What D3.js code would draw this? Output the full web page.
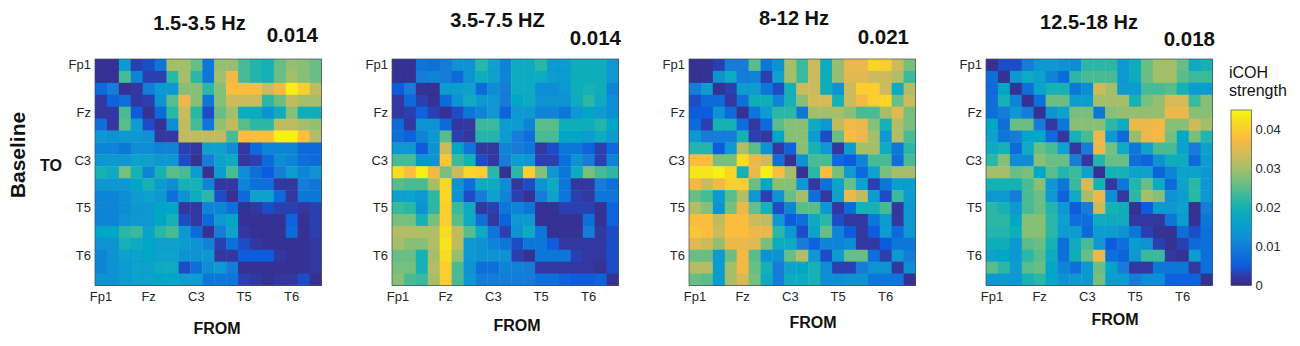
<!DOCTYPE html>
<html><head><meta charset="utf-8">
<style>
html,body{margin:0;padding:0;background:#fff;overflow:hidden}
text{font-family:"Liberation Sans",Arial,sans-serif}
</style>
<script src="https://cdn.jsdelivr.net/npm/d3@7"></script>
</head><body><svg id="c" width="1300" height="346"></svg>
<script>
const channels = ["Fp1","","","","Fz","","","","C3","","","","T5","","","","T6","",""];
const bandTitles = ["1.5-3.5 Hz","3.5-7.5 HZ","8-12 Hz","12.5-18 Hz"];
const bandMeans = ["0.014","0.014","0.021","0.018"];
const colorTicks = [0,0.01,0.02,0.03,0.04];
// iCOH strength x 1000, rows = TO, columns = FROM
const delta = [
[1,1,15,3,4,9,30,30,26,9,29,29,24,21,20,26,29,28,26],
[1,1,24,11,3,3,22,30,22,9,30,37,24,21,20,26,30,28,26],
[7,10,1,2,10,14,14,28,28,22,28,38,38,38,33,37,44,40,32],
[2,6,8,2,3,13,25,36,28,9,28,33,33,33,22,26,32,30,30],
[2,2,24,5,1,7,22,33,22,4,26,30,18,18,13,18,28,19,19],
[8,2,25,15,4,1,12,32,24,9,29,32,25,22,22,32,32,30,29],
[14,13,14,14,13,2,2,32,32,32,32,24,38,38,38,44,44,38,31],
[11,11,9,12,12,11,11,3,2,16,16,12,2,7,11,11,11,7,7],
[14,14,14,16,16,14,14,4,1,10,16,18,2,3,7,12,11,8,7],
[20,18,27,20,11,20,25,24,15,1,15,24,12,8,5,10,15,11,13],
[14,14,14,17,20,15,12,20,20,11,2,2,11,8,8,2,2,10,9],
[11,11,12,15,16,14,8,13,18,22,4,1,7,16,16,7,2,9,9],
[11,11,12,14,14,17,17,2,2,11,11,8,1,2,4,3,3,2,3],
[11,11,13,14,14,17,20,4,2,7,14,17,1,1,1,1,6,1,3],
[17,17,22,23,16,22,24,14,7,1,10,16,2,1,1,1,7,1,3],
[13,13,20,18,17,16,16,15,13,11,3,8,4,2,1,1,1,1,2],
[11,13,16,16,17,16,16,13,13,14,2,2,5,5,5,2,1,1,2],
[11,13,15,16,16,18,18,4,8,12,14,10,1,1,1,1,1,1,2],
[13,13,15,16,16,17,17,15,15,9,9,9,3,2,1,2,2,4,1]];
const theta = [
[1,1,9,8,10,13,13,22,16,11,18,18,22,15,15,19,19,19,14],
[1,1,10,11,10,7,13,19,16,11,18,18,18,15,15,19,19,19,14],
[5,10,1,1,15,15,16,7,12,10,18,18,12,12,14,19,20,19,11],
[2,7,3,1,7,13,18,14,14,10,17,18,13,13,13,18,22,18,12],
[2,3,6,3,1,4,9,11,14,6,14,14,11,11,9,14,17,15,12],
[7,2,13,13,7,2,2,23,23,15,15,11,25,25,19,19,19,21,17],
[8,6,11,14,25,3,2,21,21,15,10,8,24,24,17,17,15,18,15],
[14,14,5,13,33,17,9,2,2,11,10,9,2,4,9,9,6,3,7],
[24,24,13,13,39,23,20,4,2,10,15,14,3,3,8,13,10,3,11],
[42,38,44,37,27,33,41,40,22,1,22,40,28,14,9,18,27,24,22],
[25,24,24,30,41,13,8,18,18,12,2,4,13,18,9,2,2,10,8],
[16,16,14,22,41,13,4,10,16,11,3,1,10,16,9,3,2,9,9],
[23,22,13,22,40,23,18,2,3,9,11,9,1,1,3,3,3,1,6],
[27,27,20,27,40,25,18,8,2,6,14,14,1,1,1,1,8,1,6],
[31,31,31,31,42,32,25,18,9,3,13,18,9,1,1,1,10,2,4],
[30,28,28,31,43,32,14,13,11,9,4,9,9,5,2,2,2,2,4],
[26,26,20,30,42,29,14,13,13,13,3,1,9,9,9,3,2,2,4],
[27,27,20,31,40,24,13,8,8,11,11,10,2,2,2,2,2,1,4],
[28,24,23,30,40,24,14,10,10,10,10,10,8,8,6,5,5,6,1]];
const alpha = [
[1,1,3,10,10,25,9,13,30,23,33,18,29,36,36,41,40,33,27],
[1,1,13,18,10,11,3,16,30,23,33,19,29,35,35,33,33,31,23],
[10,15,1,3,15,15,9,4,20,33,33,19,13,33,40,40,33,18,31],
[4,7,7,2,8,19,19,11,20,28,34,34,20,33,37,40,41,26,33],
[5,5,13,7,1,9,15,22,22,9,30,30,30,28,24,24,30,35,27],
[7,3,20,20,8,2,7,25,28,28,18,14,32,37,36,28,20,31,27],
[14,10,10,10,20,3,2,17,28,28,15,4,26,38,36,30,14,31,24],
[21,21,5,14,31,25,13,2,6,28,20,14,2,15,30,30,18,9,22],
[38,38,27,27,42,36,33,8,1,13,24,24,7,5,11,24,24,8,24],
[43,43,44,41,20,36,44,38,30,1,22,38,27,15,7,16,27,30,30],
[37,33,37,40,40,26,17,28,28,14,2,8,16,26,16,3,9,15,15],
[26,24,14,25,31,14,3,13,26,30,8,2,16,36,32,15,4,23,15],
[31,28,13,27,36,26,20,4,11,25,25,14,2,7,20,20,24,2,14],
[38,38,32,38,38,33,32,14,5,8,18,22,4,2,2,9,15,2,14],
[39,38,33,38,38,36,36,22,14,4,16,26,11,5,2,5,15,7,14],
[35,33,29,36,36,35,27,18,18,10,6,11,11,12,2,2,5,9,9],
[26,26,15,26,37,25,13,13,26,31,14,4,15,26,26,8,3,14,10],
[31,31,15,30,37,26,20,10,16,17,20,12,3,3,10,13,13,2,12],
[26,25,15,30,34,27,18,10,18,18,20,12,12,13,13,9,9,9,1]];
const beta = [
[1,4,4,10,14,14,13,12,22,22,22,14,19,26,30,30,26,18,20],
[8,1,14,18,16,11,7,22,24,24,24,14,18,26,30,30,25,23,23],
[7,17,1,8,16,20,20,9,12,33,30,15,15,24,24,25,20,15,15],
[8,20,11,1,8,26,26,15,15,30,30,30,20,27,29,34,34,23,28],
[8,10,14,10,1,13,16,27,27,9,28,29,29,29,29,36,36,28,28],
[17,8,26,26,10,2,9,28,28,28,22,18,36,36,37,28,28,33,30],
[16,9,10,17,17,7,2,20,24,36,14,7,29,36,37,27,17,27,21],
[18,20,7,18,26,24,16,2,10,36,27,18,9,16,24,24,16,10,16],
[22,28,12,12,28,26,26,10,2,21,26,26,8,6,13,19,18,7,15],
[30,30,26,27,17,25,21,23,16,1,20,20,16,16,6,11,16,16,14],
[20,20,20,24,28,14,9,23,34,20,2,9,21,26,18,7,16,22,14],
[14,14,10,24,26,14,6,18,30,36,12,2,22,30,28,13,15,22,14],
[22,20,14,24,26,21,14,5,10,33,20,19,1,5,14,14,16,1,10],
[22,22,17,28,28,22,16,8,8,18,18,18,2,2,2,9,15,1,9],
[21,21,19,28,28,22,15,15,7,15,15,13,9,3,1,1,8,4,8],
[19,19,14,25,26,20,8,18,24,14,5,8,15,13,3,1,3,7,8],
[16,17,14,22,25,18,8,19,26,36,8,6,14,23,23,2,1,15,8],
[25,22,15,25,26,17,11,8,14,26,17,10,2,2,9,9,9,2,8],
[14,14,14,20,22,17,13,14,14,27,15,15,10,12,12,6,6,6,1]];
const matrices = [delta,theta,alpha,beta];

// parula colormap (sampled evenly)
const parula = ["#352a87","#323aa6","#0f5cdd","#0f6ddb","#127cd8","#1091d3","#079ccf","#06a8c4","#15b1b4","#32b8a2","#59bd8b","#7fbf7a","#a5be6b","#c5bc5e","#e1b952","#f9b941","#fccd2e","#f5e01f","#f9fb0e"];
const vmax = 0.045;
const cmap = d3.scaleLinear().domain(parula.map((_,i)=>i/(parula.length-1)*vmax)).range(parula).clamp(true);

// layout
const layout = [
 {x:95,  y:59, titleX:199.5, titleY:30, meanX:318, meanY:41.5, fromX:217, fromY:334},
 {x:392, y:59, titleX:497.5, titleY:27, meanX:621, meanY:44.5, fromX:517, fromY:331},
 {x:689, y:59, titleX:794, titleY:25, meanX:909, meanY:44, fromX:813, fromY:328},
 {x:986, y:59, titleX:1089,titleY:29, meanX:1215,meanY:46, fromX:1115,fromY:325}
];
const size = 226.5;
const svg = d3.select("#c");
const dark = "#262626";
const idx = d3.range(19);
const defs = svg.append("defs");
defs.append("filter").attr("id","soft").append("feGaussianBlur").attr("stdDeviation",0.45);

matrices.forEach((m,p)=>{
  const L = layout[p];
  const xS = d3.scaleBand().domain(idx).range([0,size]);
  const yS = d3.scaleBand().domain(idx).range([0,size]);
  const g = svg.append("g").attr("transform",`translate(${L.x},${L.y})`);
  const cells = g.append("g").attr("filter","url(#soft)");
  cells.selectAll("g.r").data(m).join("g").attr("class","r")
    .attr("transform",(d,i)=>`translate(0,${yS(i)})`)
    .selectAll("rect").data(d=>d).join("rect")
    .attr("x",(d,j)=>xS(j)).attr("y",0)
    .attr("width",xS.bandwidth()+0.4).attr("height",yS.bandwidth()+0.4)
    .attr("fill",d=>cmap(d/1000));
  g.append("rect").attr("width",size).attr("height",size).attr("fill","none").attr("stroke","#404a50").attr("stroke-width",0.7);
  const tickIdx = idx.filter(i=>channels[i]);
  const axB = d3.axisBottom(xS).tickValues(tickIdx).tickFormat(i=>channels[i]).tickSize(0).tickPadding(6);
  const axL = d3.axisLeft(yS).tickValues(tickIdx).tickFormat(i=>channels[i]).tickSize(0).tickPadding(4);
  const gb = g.append("g").attr("transform",`translate(0,${size})`).call(axB);
  const gl = g.append("g").call(axL);
  [gb,gl].forEach(a=>{a.select(".domain").remove();a.selectAll("text").attr("font-size",13).attr("fill",dark).style("font-family",'"Liberation Sans",Arial,sans-serif');});
  svg.append("text").attr("x",L.titleX).attr("y",L.titleY).attr("text-anchor","middle").attr("font-size",20).attr("font-weight","bold").attr("fill","#111").text(bandTitles[p]);
  svg.append("text").attr("x",L.meanX).attr("y",L.meanY).attr("text-anchor","end").attr("font-size",20.5).attr("font-weight","bold").attr("fill","#111").text(bandMeans[p]);
  svg.append("text").attr("x",L.fromX).attr("y",L.fromY).attr("text-anchor","middle").attr("font-size",16).attr("font-weight","bold").attr("fill","#111").text("FROM");
});

svg.append("text").attr("transform","translate(25,155) rotate(-90)").attr("text-anchor","middle").attr("font-size",21).attr("font-weight","bold").attr("fill","#111").text("Baseline");
svg.append("text").attr("x",51).attr("y",171).attr("text-anchor","middle").attr("font-size",16).attr("font-weight","bold").attr("fill","#111").text("TO");

// colorbar
const cbX=1231, cbW=20.5, cbTop=110, cbBot=285.5;
const cbY = d3.scaleLinear().domain([0,vmax]).range([cbBot,cbTop]);
const grad = defs.append("linearGradient").attr("id","pg").attr("x1",0).attr("x2",0).attr("y1",1).attr("y2",0);
d3.range(0,1.0001,0.025).forEach(t=>grad.append("stop").attr("offset",t).attr("stop-color",cmap(t*vmax)));
svg.append("rect").attr("x",cbX).attr("y",cbTop).attr("width",cbW).attr("height",cbBot-cbTop).attr("fill","url(#pg)").attr("stroke","#404a50").attr("stroke-width",0.7);
const gc = svg.append("g").attr("transform",`translate(${cbX+cbW},0)`).call(d3.axisRight(cbY).tickValues(colorTicks).tickFormat(d=>d===0?"0":d3.format(".2f")(d)).tickSize(0).tickPadding(4));
gc.select(".domain").remove();
gc.selectAll("text").attr("font-size",13).attr("fill",dark).style("font-family",'"Liberation Sans",Arial,sans-serif');
svg.append("text").attr("x",1229).attr("y",78).attr("font-size",16).attr("fill","#111").text("iCOH");
svg.append("text").attr("x",1229).attr("y",96).attr("font-size",16).attr("fill","#111").text("strength");
</script></body></html>
